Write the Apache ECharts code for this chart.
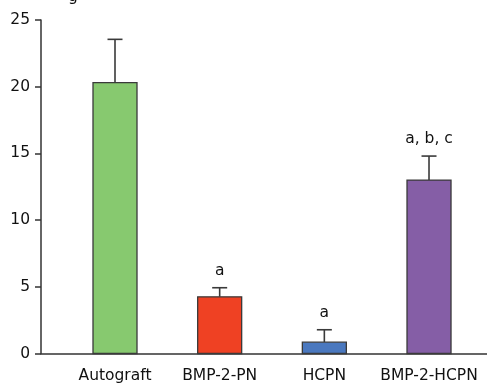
<!DOCTYPE html>
<html>
<head>
<meta charset="utf-8">
<script src="https://cdn.jsdelivr.net/npm/echarts@6/dist/echarts.min.js"></script>
<style>
html,body{margin:0;padding:0;background:#fff;}
#chart{width:487px;height:384px;}
</style>
</head>
<body>
<div id="chart"></div>
<script>
const categories = ['Autograft', 'BMP-2-PN', 'HCPN', 'BMP-2-HCPN'];
const means = [20.3, 4.25, 0.85, 13.0];
const errors = [3.25, 0.68, 0.93, 1.8];
const annotations = ['', 'a', 'a', 'a, b, c'];
const barColors = ['#87c96f', '#ef4123', '#4a78bf', '#855ea6'];
const yTicks = [0, 5, 10, 15, 20, 25];

const FONT = 'DejaVu Sans';
const data = categories.map((c, i) => [i, means[i], errors[i]]);

const chart = echarts.init(document.getElementById('chart'), null, {renderer: 'canvas'});
chart.setOption({
  animation: false,
  title: {
    text: 'g', left: 63, top: -16,
    textStyle: {fontFamily: FONT, fontSize: 15.5, fontWeight: 'normal', color: '#111'}
  },
  grid: {left: 41, right: 0, top: 20, bottom: 30.5, containLabel: false},
  xAxis: {
    type: 'value', min: -0.707, max: 3.554,
    axisLine: {show: true, onZero: false, lineStyle: {color: '#333', width: 1.5}},
    axisTick: {show: false},
    splitLine: {show: false},
    axisLabel: {
      customValues: [0, 1, 2, 3],
      formatter: v => categories[Math.round(v)] || '',
      margin: 14, color: '#111', fontFamily: FONT, fontSize: 15.5
    }
  },
  yAxis: {
    type: 'value', min: 0, max: 25, interval: 5,
    axisLine: {show: true, onZero: false, lineStyle: {color: '#333', width: 1.5}},
    axisTick: {show: true, length: 6, lineStyle: {color: '#333', width: 1.5}},
    splitLine: {show: false},
    axisLabel: {
      formatter: v => (yTicks.indexOf(v) >= 0 ? String(v) : ''),
      margin: 11, color: '#111', fontFamily: FONT, fontSize: 15.5
    }
  },
  series: [
    {
      type: 'custom',
      data: data,
      encode: {x: 0, y: 1},
      z: 2,
      renderItem: function (params, api) {
        const i = api.value(0), v = api.value(1), e = api.value(2);
        const base = api.coord([i, 0]);
        const top = api.coord([i, v]);
        const et = api.coord([i, v + e]);
        const w = 44, cap = 15;
        const children = [
          {type: 'line', shape: {x1: top[0], y1: top[1], x2: et[0], y2: et[1]},
            style: {stroke: '#3a3a3a', lineWidth: 1.6}},
          {type: 'line', shape: {x1: et[0] - cap / 2, y1: et[1], x2: et[0] + cap / 2, y2: et[1]},
            style: {stroke: '#3a3a3a', lineWidth: 1.6}},
          {type: 'rect', shape: {x: base[0] - w / 2, y: top[1], width: w, height: base[1] - top[1]},
            style: {fill: barColors[i], stroke: '#3a3a3a', lineWidth: 1.3}}
        ];
        if (annotations[i]) {
          children.push({type: 'text', x: et[0], y: et[1] - 17,
            style: {text: annotations[i], fill: '#111', font: '15.5px "' + FONT + '"',
              align: 'center', verticalAlign: 'middle'}});
        }
        return {type: 'group', children: children};
      }
    }
  ]
});
</script>
</body>
</html>
